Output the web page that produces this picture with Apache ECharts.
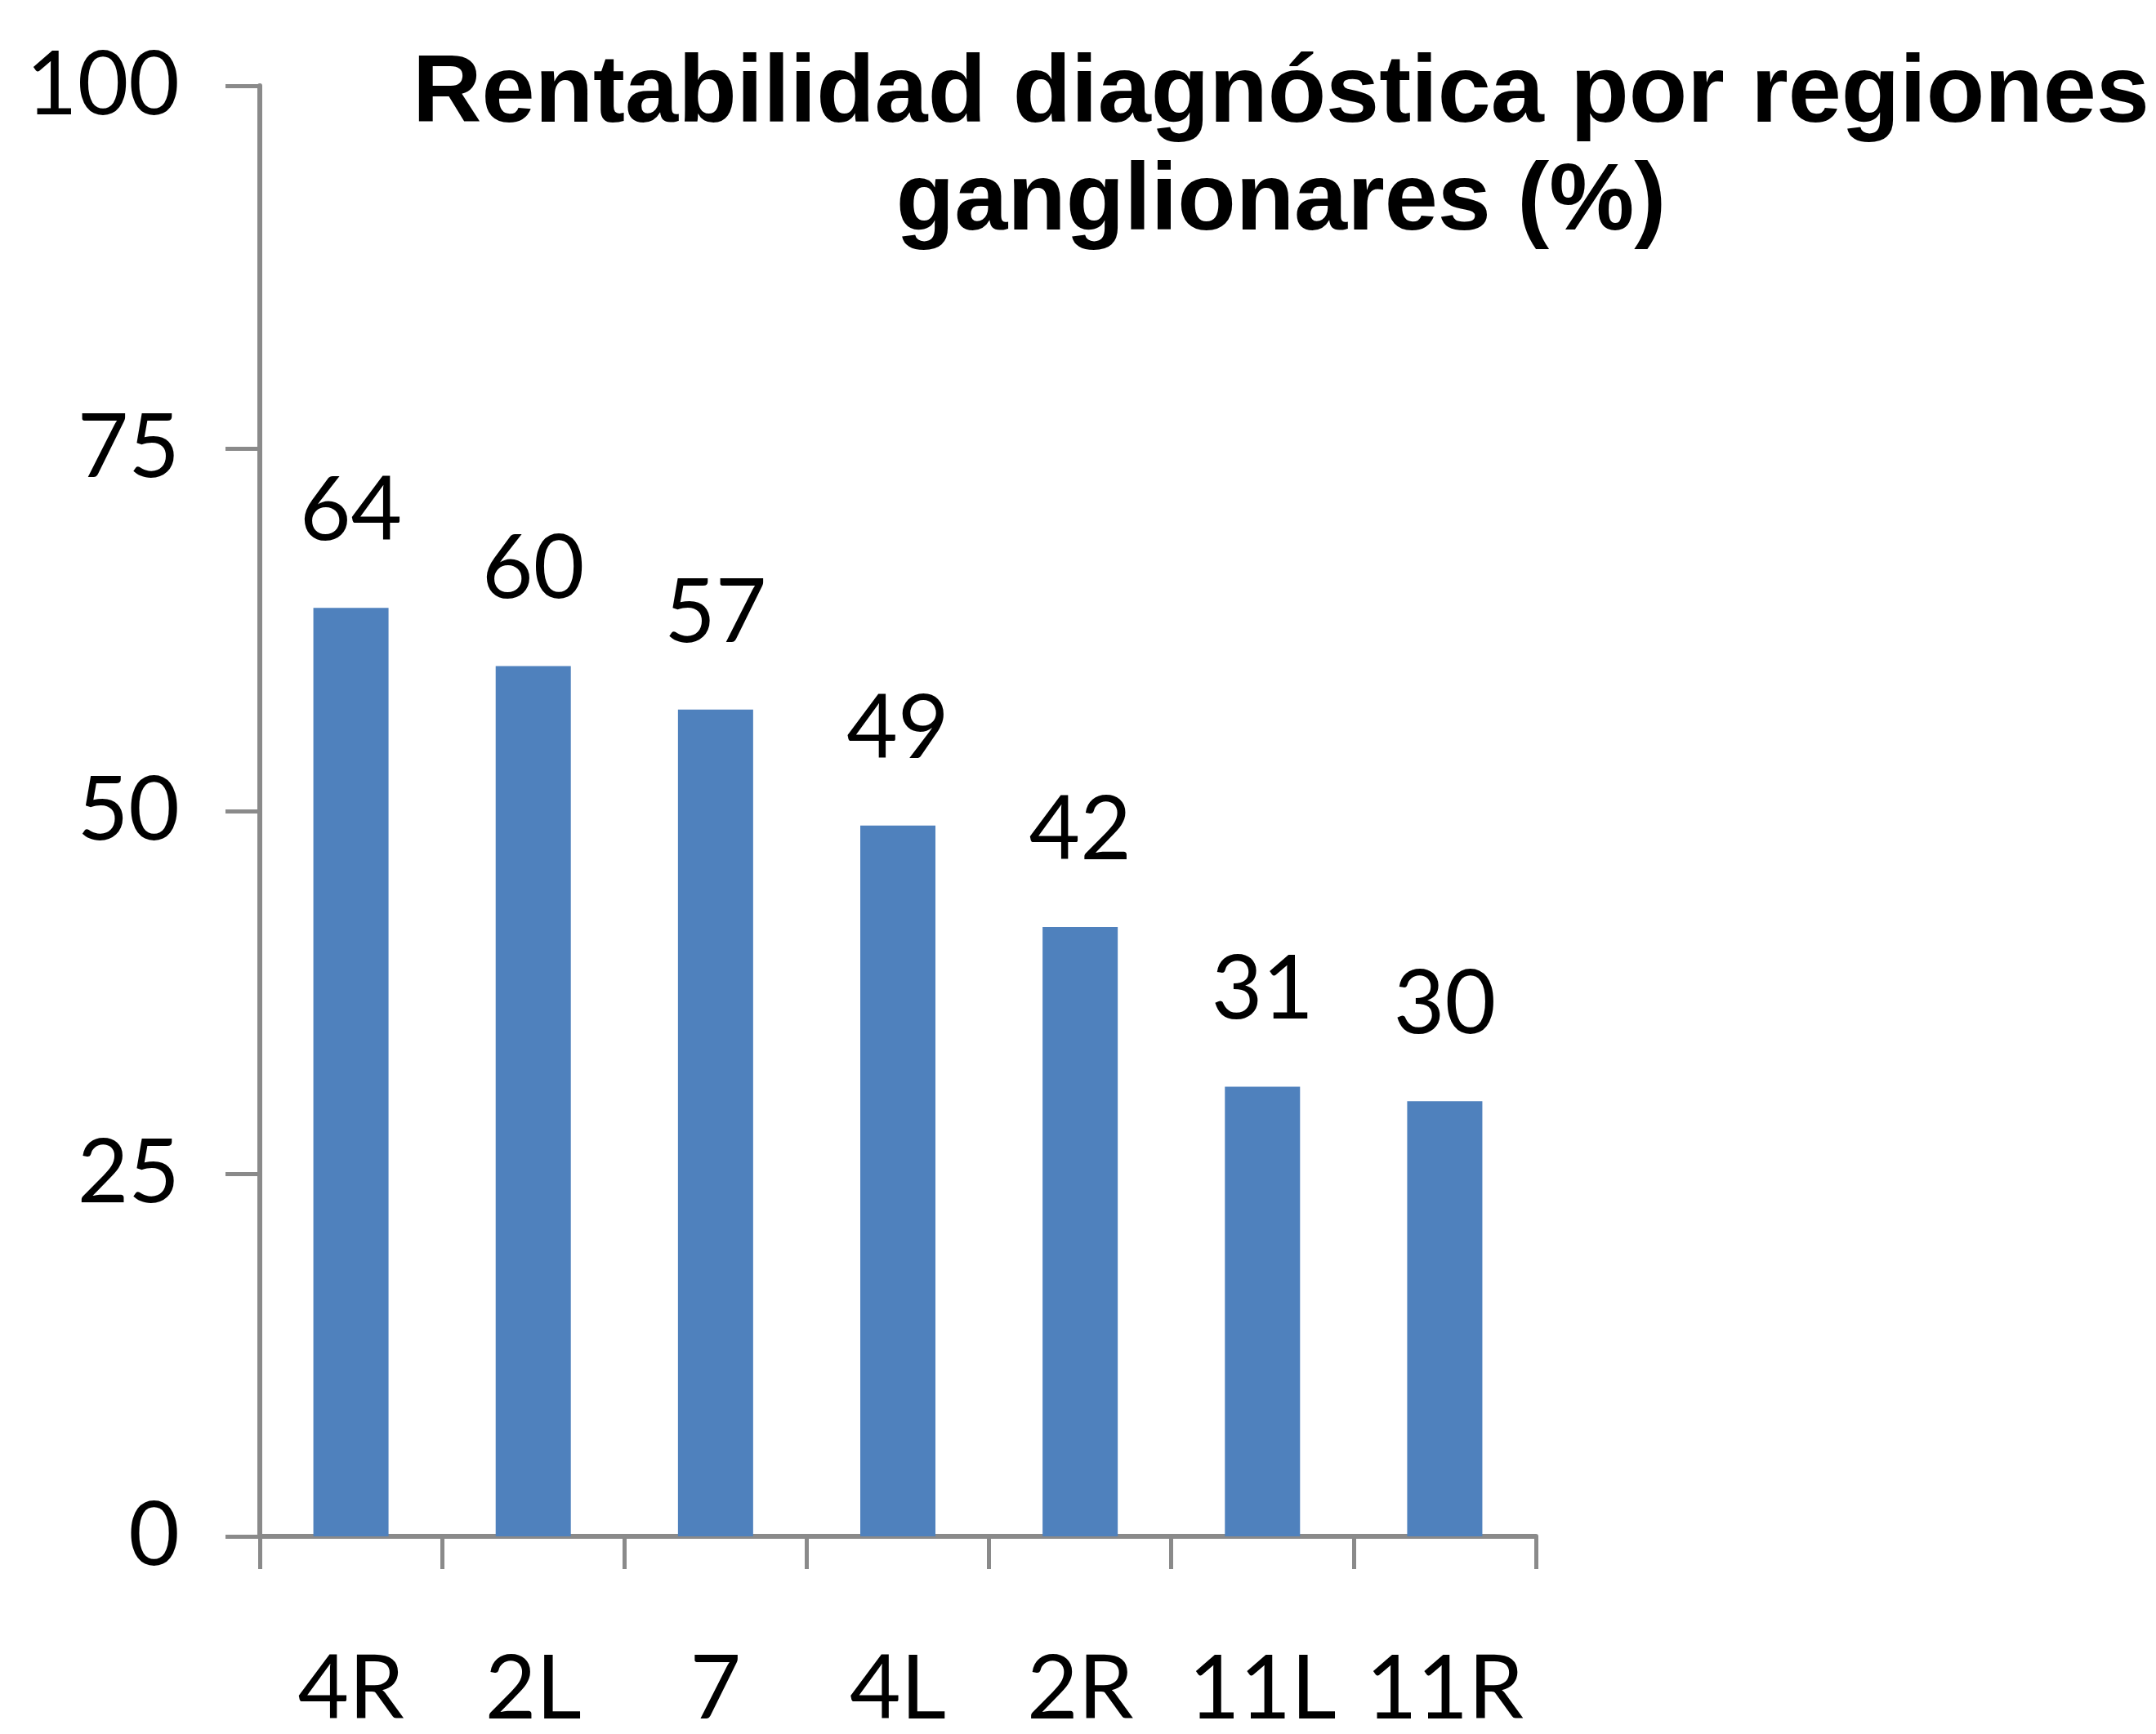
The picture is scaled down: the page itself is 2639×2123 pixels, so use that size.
<!DOCTYPE html>
<html>
<head>
<meta charset="utf-8">
<script src="https://cdn.jsdelivr.net/npm/echarts@6/dist/echarts.min.js"></script>
<style>
html,body{margin:0;padding:0;background:#fff;}
#chart{width:2639px;height:2123px;}
</style>
</head>
<body>
<div id="chart"></div>
<script>
const titleText = 'Rentabilidad diagnóstica por regiones\nganglionares (%)';
const categories = ['4R', '2L', '7', '4L', '2R', '11L', '11R'];
const values = [64, 60, 57, 49, 42, 31, 30];
const yTicks = [0, 25, 50, 75, 100];

const chart = echarts.init(document.getElementById('chart'));
chart.setOption({
  backgroundColor: '#ffffff',
  animation: false,
  title: {
    text: titleText,
    left: 1563,
    top: 46,
    textAlign: 'center',
    textStyle: {
      fontFamily: '"Liberation Sans", Arial, sans-serif',
      fontWeight: 'bold',
      fontSize: 117,
      lineHeight: 132,
      color: '#000000'
    }
  },
  grid: { left: 318, right: 759, top: 105, bottom: 226, containLabel: false },
  xAxis: {
    type: 'category',
    data: categories,
    boundaryGap: true,
    axisLine: { show: true, lineStyle: { color: '#8a8a8a', width: 6 } },
    axisTick: { show: true, length: 40, alignWithLabel: false, lineStyle: { color: '#8a8a8a', width: 5 } },
    axisLabel: {
      interval: 0,
      margin: 134,
      fontFamily: 'Lato, "Open Sans", sans-serif',
      fontSize: 108,
      color: '#000000'
    }
  },
  yAxis: {
    type: 'value',
    min: yTicks[0],
    max: yTicks[yTicks.length - 1],
    interval: 25,
    splitLine: { show: false },
    axisLine: { show: true, lineStyle: { color: '#8a8a8a', width: 6 } },
    axisTick: { show: true, length: 42, lineStyle: { color: '#8a8a8a', width: 5 } },
    axisLabel: {
      margin: 98,
      fontFamily: 'Lato, "Open Sans", sans-serif',
      fontSize: 108,
      color: '#000000'
    }
  },
  series: [{
    type: 'bar',
    data: values,
    barWidth: 92,
    itemStyle: { color: '#4F81BD' },
    label: {
      show: true,
      position: 'top',
      distance: 64,
      fontFamily: 'Lato, "Open Sans", sans-serif',
      fontSize: 108,
      color: '#000000'
    }
  }]
});
</script>
</body>
</html>
